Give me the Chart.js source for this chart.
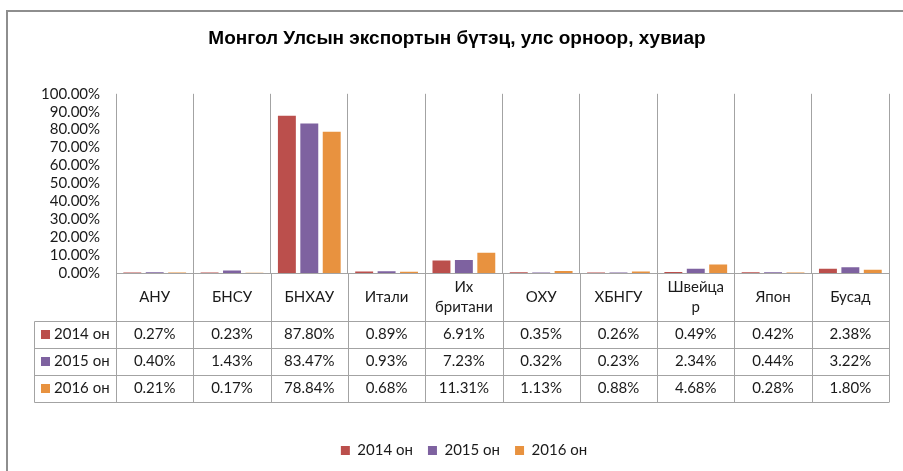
<!DOCTYPE html>
<html>
<head>
<meta charset="utf-8">
<script src="https://cdn.jsdelivr.net/npm/chart.js@4.4.1/dist/chart.umd.min.js"></script>
<style>
  html, body { margin: 0; padding: 0; background: #fff; }
</style>
</head>
<body>
<canvas id="exportChart" width="903" height="471"></canvas>
<script>
// Монгол Улсын экспортын бүтэц, улс орноор (%)
const countries = [['АНУ'], ['БНСУ'], ['БНХАУ'], ['Итали'], ['Их', 'британи'], ['ОХУ'], ['ХБНГУ'], ['Швейца', 'р'], ['Япон'], ['Бусад']]
const seriesNames = ['2014 он', '2015 он', '2016 он']
const share2014 = [0.27, 0.23, 87.80, 0.89, 6.91, 0.35, 0.26, 0.49, 0.42, 2.38]
const share2015 = [0.40, 1.43, 83.47, 0.93, 7.23, 0.32, 0.23, 2.34, 0.44, 3.22]
const share2016 = [0.21, 0.17, 78.84, 0.68, 11.31, 1.13, 0.88, 4.68, 0.28, 1.80]
const yTickValues = [0, 10, 20, 30, 40, 50, 60, 70, 80, 90, 100]

const seriesColors = ['#BB4F4C', '#7E62A0', '#E8923F']
const allSeries = [share2014, share2015, share2016]
const lineColor = '#A3A3A3'
const textColor = '#1A1A1A'
const bodyFont = 'Lato, "Open Sans", sans-serif'

const pct = v => v.toFixed(2) + '%'

// grey frame round the whole chart, like the Word/Excel object border
const chartFrame = {
  id: 'chartFrame',
  beforeDraw(chart) {
    const { ctx } = chart
    ctx.save()
    ctx.fillStyle = '#fff'
    ctx.fillRect(0, 0, chart.width, chart.height)
    ctx.strokeStyle = '#8E8E8E'
    ctx.lineWidth = 2
    ctx.strokeRect(7, 11, chart.width + 10, chart.height + 10)
    ctx.restore()
  }
}

// legend sits a little right of the canvas centre in the original
const legendNudge = {
  id: 'legendNudge',
  afterLayout(chart) {
    if (!chart.legend) return
    chart.legend.left += 7
    chart.legend.right += 7
  }
}

// data table under the plot area, columns follow the category scale
const dataTable = {
  id: 'dataTable',
  afterDraw(chart) {
    const { ctx, chartArea } = chart
    const n = countries.length
    const colW = (chartArea.right - chartArea.left) / n
    const headTop = chartArea.bottom
    const headH = 48
    const rowH = 27
    const tableLeft = 34
    const rowsTop = headTop + headH
    const tableBottom = rowsTop + rowH * allSeries.length
    const px = v => Math.round(v) + 0.5

    ctx.save()
    ctx.strokeStyle = lineColor
    ctx.lineWidth = 1
    ctx.beginPath()
    for (let i = 0; i <= n; i++) {
      const x = px(chartArea.left + i * colW)
      ctx.moveTo(x, headTop)
      ctx.lineTo(x, tableBottom)
    }
    ctx.moveTo(px(tableLeft), px(rowsTop))
    ctx.lineTo(px(tableLeft), px(tableBottom))
    for (let r = 0; r <= allSeries.length; r++) {
      const y = px(rowsTop + r * rowH)
      ctx.moveTo(px(tableLeft), y)
      ctx.lineTo(px(chartArea.right), y)
    }
    ctx.stroke()

    ctx.font = '15px ' + bodyFont
    ctx.fillStyle = textColor
    ctx.textAlign = 'center'
    ctx.textBaseline = 'middle'

    // header row: category names
    countries.forEach((lines, i) => {
      const cx = chartArea.left + (i + 0.5) * colW
      const cy = headTop + headH / 2
      lines.forEach((t, k) => {
        ctx.fillText(t, cx, cy + (k - (lines.length - 1) / 2) * 20)
      })
    })

    // value rows
    allSeries.forEach((values, r) => {
      const cy = rowsTop + r * rowH + rowH / 2
      values.forEach((v, i) => {
        ctx.fillText(pct(v), chartArea.left + (i + 0.5) * colW, cy)
      })
      ctx.fillStyle = seriesColors[r]
      ctx.fillRect(tableLeft + 7, cy - 4.5, 9, 9)
      ctx.fillStyle = textColor
      ctx.textAlign = 'left'
      ctx.fillText(seriesNames[r], tableLeft + 20, cy)
      ctx.textAlign = 'center'
    })
    ctx.restore()
  }
}

const ctx = document.getElementById('exportChart').getContext('2d')
new Chart(ctx, {
  type: 'bar',
  data: {
    labels: countries,
    datasets: allSeries.map((values, i) => ({
      label: seriesNames[i],
      data: values,
      backgroundColor: seriesColors[i],
      borderWidth: 0,
      categoryPercentage: 0.87,
      barPercentage: 0.8
    }))
  },
  options: {
    responsive: false,
    animation: false,
    devicePixelRatio: 1,
    layout: {
      padding: { left: 25, right: 14, top: 0, bottom: 3 }
    },
    plugins: {
      title: {
        display: true,
        text: 'Монгол Улсын экспортын бүтэц, улс орноор, хувиар',
        color: '#000',
        font: { family: '"Liberation Sans", Arial, sans-serif', size: 19, weight: 'bold' },
        padding: { top: 27, bottom: 44 }
      },
      legend: {
        position: 'bottom',
        labels: {
          boxWidth: 9,
          boxHeight: 9,
          padding: 15,
          color: textColor,
          font: { family: bodyFont, size: 15 }
        }
      },
      tooltip: { enabled: false }
    },
    scales: {
      x: {
        offset: true,
        ticks: { display: false },
        grid: { offset: true, color: lineColor, drawTicks: false },
        border: { color: lineColor },
        afterFit(scale) {
          scale.height = 155
        }
      },
      y: {
        min: 0,
        max: 100,
        afterBuildTicks(scale) {
          scale.ticks = yTickValues.map(v => ({ value: v }))
        },
        grid: { display: false, drawTicks: false },
        border: { display: false },
        ticks: {
          autoSkip: false,
          padding: 16,
          color: textColor,
          font: { family: bodyFont, size: 15 },
          callback: v => pct(v)
        }
      }
    }
  },
  plugins: [chartFrame, legendNudge, dataTable]
})
</script>
</body>
</html>
